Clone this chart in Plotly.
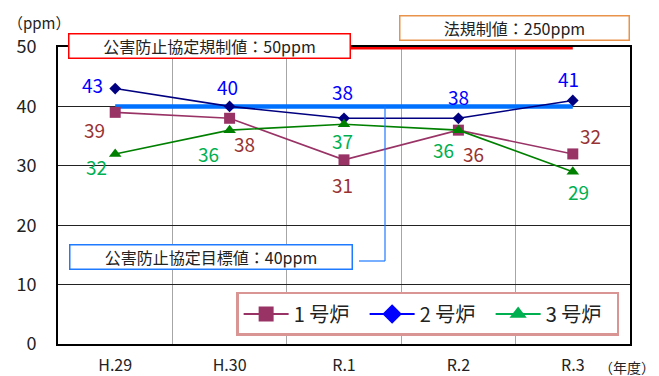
import plotly.graph_objects as go

years = ["H.29", "H.30", "R.1", "R.2", "R.3"]
furnace1 = [39, 38, 31, 36, 32]
furnace2 = [43, 40, 38, 38, 41]
furnace3 = [32, 36, 37, 36, 29]
names = ["1 号炉", "2 号炉", "3 号炉"]
agreement_limit = 50
agreement_target = 40

FONT = "Noto Sans CJK JP"
line_cols = ["#993366", "#000080", "#008000"]
legend_cols = ["#993366", "#0000ff", "#00b050"]
label_cols = ["#993333", "#0000ff", "#00b050"]
symbols = ["square", "diamond", "triangle-up"]
msizes = [11, 9, 11]

# label offsets (px): (xshift, yshift) per point
offsets = [
    [(-21, -17), (15, -25), (-2, -25), (15, -23), (18, 18)],
    [(-23, 4), (-2, 20), (-2, 27), (0, 22), (-4, 22)],
    [(-19, -13), (-21, -23), (-2, -16), (-15, -19), (6, -20)],
]

fig = go.Figure()

# reference lines
fig.add_trace(go.Scatter(x=[years[0], years[-1]], y=[agreement_limit] * 2, mode="lines",
                         line=dict(color="#ff0000", width=5), showlegend=False, hoverinfo="skip"))
fig.add_trace(go.Scatter(x=[years[0], years[-1]], y=[agreement_target] * 2, mode="lines",
                         line=dict(color="#0070ff", width=4.5), showlegend=False, hoverinfo="skip"))

series = [furnace1, furnace2, furnace3]
for i, s in enumerate(series):
    fig.add_trace(go.Scatter(x=years, y=s, mode="lines+markers",
                             line=dict(color=line_cols[i], width=1.6),
                             marker=dict(symbol=symbols[i], size=msizes[i], color=line_cols[i]),
                             showlegend=False))
for i, s in enumerate(series):
    fig.add_trace(go.Scatter(x=[None], y=[None], mode="lines+markers", name=names[i],
                             line=dict(color=legend_cols[i], width=2),
                             marker=dict(symbol=symbols[i], size=15, color=legend_cols[i])))

annotations = []
for i, s in enumerate(series):
    for j, v in enumerate(s):
        dx, dy = offsets[i][j]
        annotations.append(dict(x=years[j], y=v, xref="x", yref="y", text=str(v), showarrow=False,
                                xshift=dx, yshift=dy,
                                font=dict(family=FONT, size=19, color=label_cols[i])))

annotations += [
    dict(x=(68 - 58) / 572, y=(344 - 46) / 297, xref="paper", yref="paper", xanchor="left", yanchor="middle",
         text="公害防止協定規制値：50ppm", showarrow=False, bgcolor="white", bordercolor="#ff0000",
         borderwidth=1.5, width=278, height=21, font=dict(family=FONT, size=16, color="#222")),
    dict(x=(399 - 58) / 572, y=(344 - 28) / 297, xref="paper", yref="paper", xanchor="left", yanchor="middle",
         text="法規制値：250ppm", showarrow=False, bgcolor="white", bordercolor="#e8924a",
         borderwidth=1.5, width=226, height=21, font=dict(family=FONT, size=16, color="#222")),
    dict(x=(69 - 58) / 572, y=(344 - 257) / 297, xref="paper", yref="paper", xanchor="left", yanchor="middle",
         text="公害防止協定目標値：40ppm", showarrow=False, bgcolor="white", bordercolor="#1e7aff",
         borderwidth=1.5, width=279, height=21, font=dict(family=FONT, size=16, color="#222")),
    dict(x=(6 - 58) / 572, y=(344 - 22) / 297, xref="paper", yref="paper", xanchor="left", yanchor="middle",
         text="（ppm）", showarrow=False, font=dict(family=FONT, size=15, color="#222")),
    dict(x=(657 - 58) / 572, y=(344 - 367) / 297, xref="paper", yref="paper", xanchor="right", yanchor="middle",
         text="（年度）", showarrow=False, font=dict(family=FONT, size=14, color="#222")),
]

shapes = [
    dict(type="line", xref="paper", yref="paper", x0=(359 - 58) / 572, x1=(385 - 58) / 572,
         y0=(344 - 261) / 297, y1=(344 - 261) / 297, line=dict(color="#1e7aff", width=1.2)),
    dict(type="line", xref="paper", yref="y", x0=(385 - 58) / 572, x1=(385 - 58) / 572,
         y0=agreement_target, y1=(344 - 261) / 297 * 50, line=dict(color="#1e7aff", width=1.2)),
]

fig.update_layout(
    width=659, height=376,
    margin=dict(l=58, r=29, t=47, b=32),
    paper_bgcolor="white", plot_bgcolor="white",
    font=dict(family=FONT, size=16, color="#222"),
    annotations=annotations, shapes=shapes,
    legend=dict(orientation="h", x=0.981, xanchor="right", y=0.027, yanchor="bottom",
                bordercolor="#d99594", borderwidth=2.5, bgcolor="white",
                font=dict(family=FONT, size=20, color="#222"), itemwidth=45,
                entrywidth=66, entrywidthmode="pixels"),
    xaxis=dict(type="category", categoryorder="array", categoryarray=years,
               range=[-0.5, 4.5], tickson="boundaries", ticks="", automargin=False,
               showgrid=True, gridcolor="#a6a6a6", gridwidth=1, layer="below traces",
               showline=True, linecolor="black", linewidth=2, mirror=True,
               tickfont=dict(family=FONT, size=16, color="#222"), ticklabelstandoff=6),
    yaxis=dict(range=[0, 50], dtick=10, showgrid=True, gridcolor="#222", gridwidth=1,
               showline=True, linecolor="black", linewidth=2, mirror=True, ticks="",
               zeroline=False, automargin=False, layer="below traces",
               tickfont=dict(family=FONT, size=18, color="#222"), ticklabelstandoff=16),
)

fig.write_html("out.html", config={"displayModeBar": False},
               post_script="document.body.style.margin='0';")
